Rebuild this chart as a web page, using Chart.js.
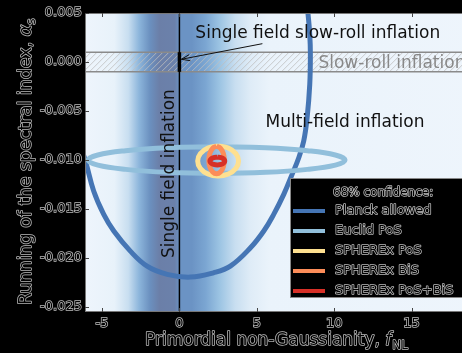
<!DOCTYPE html>
<html>
<head>
<meta charset="utf-8">
<script src="https://cdn.jsdelivr.net/npm/chart.js@4.4.0/dist/chart.umd.min.js"></script>
<style>
html, body { margin: 0; padding: 0; background: #000; overflow: hidden; }
#wrap { width: 489px; height: 353px; }
</style>
</head>
<body>
<div id="wrap"><canvas id="myChart" width="489" height="353"></canvas></div>
<script>
// contours: fNL (x) and running alpha_s (y)
const planckFnl   = [-6.4, -6.07, -5.54, -4.89, -4.24, -3.17, -2.09, -0.79, 0.71, 2.20, 3.29, 4.59, 5.45, 6.09, 6.74, 7.28, 7.71, 8.03, 8.25, 8.42, 8.46, 8.42, 8.31, 8.2];
const planckAlpha = [-0.0086, -0.0101, -0.01316, -0.01555, -0.01724, -0.01929, -0.02082, -0.02166, -0.02194, -0.02150, -0.02082, -0.01895, -0.01724, -0.01554, -0.01350, -0.01146, -0.00977, -0.00806, -0.00568, -0.00228, 0.00079, 0.00283, 0.00487, 0.0062];

const euclidFnl   = [2.4, -0.78, -3.47, -5.27, -5.9, -5.27, -3.47, -0.78, 2.4, 5.58, 8.27, 10.07, 10.7, 10.07, 8.27, 5.58, 2.4];
const euclidAlpha = [-0.00865, -0.00875, -0.00905, -0.00948, -0.0100, -0.01052, -0.01095, -0.01125, -0.01135, -0.01125, -0.01095, -0.01052, -0.0100, -0.00948, -0.00905, -0.00875, -0.00865];

const sphPosFnl   = [2.5, 1.84, 1.357, 1.18, 1.357, 1.84, 2.5, 3.16, 3.643, 3.82, 3.643, 3.16, 2.5];
const sphPosAlpha = [-0.00857, -0.008775, -0.009335, -0.0101, -0.010865, -0.011425, -0.01163, -0.011425, -0.010865, -0.0101, -0.009335, -0.008775, -0.00857];

const sphBisFnl   = [2.4, 2.15, 1.967, 1.9, 1.967, 2.15, 2.4, 2.65, 2.833, 2.9, 2.833, 2.65, 2.4];
const sphBisAlpha = [-0.0086, -0.008788, -0.0093, -0.0100, -0.0107, -0.011212, -0.0114, -0.011212, -0.0107, -0.0100, -0.0093, -0.008788, -0.0086];

const sphAllFnl   = [2.45, 2.21, 2.034, 1.97, 2.034, 2.21, 2.45, 2.69, 2.866, 2.93, 2.866, 2.69, 2.45];
const sphAllAlpha = [-0.0097, -0.009754, -0.0099, -0.0101, -0.0103, -0.010446, -0.0105, -0.010446, -0.0103, -0.0101, -0.0099, -0.009754, -0.0097];

const seriesLabels = ['Planck allowed', 'Euclid PoS', 'SPHEREx PoS', 'SPHEREx BiS', 'SPHEREx PoS+BiS'];

// Planck fNL likelihood shading (relative intensity)
const bandFnl       = [-6.1, -4.2, -3.3, -2.6, -1.9, -1.3, -0.3, 0.0, 0.8, 1.7, 2.6, 3.6, 4.6, 5.8, 20];
const bandIntensity = [0, 0.03, 0.2, 0.55, 0.85, 1.0, 0.98, 0.82, 0.82, 0.65, 0.45, 0.2, 0.08, 0.02, 0];

const xTicks = [-5, 0, 5, 10, 15];
const yTicks = [-0.025, -0.020, -0.015, -0.010, -0.005, 0.000, 0.005];
const slowRollBand = [-0.001, 0.001];

const FONT = "'DejaVu Sans', sans-serif";
const TXT = '#bdbdbd';

function pts(xs, ys) { return xs.map((x, i) => ({ x: x, y: ys[i] })); }

function shade(t) {
    const stops = [[0, [238,245,252]], [0.2, [200,222,240]], [0.45, [156,196,227]],
                   [0.65, [123,166,210]], [0.82, [107,147,196]], [1.0, [107,127,168]]];
    for (let i = 1; i < stops.length; i++) {
        if (t <= stops[i][0]) {
            const a = stops[i-1], b = stops[i];
            const f = (t - a[0]) / (b[0] - a[0]);
            const c = a[1].map((v, k) => Math.round(v + (b[1][k] - v) * f));
            return `rgb(${c[0]},${c[1]},${c[2]})`;
        }
    }
    return 'rgb(107,127,168)';
}

function hollowText(ctx, txt, x, y) {
    ctx.lineWidth = 1.5;
    ctx.strokeStyle = TXT;
    ctx.lineJoin = 'round';
    ctx.strokeText(txt, x, y);
    ctx.fillStyle = '#000';
    ctx.fillText(txt, x, y);
}

const backdrop = {
    id: 'backdrop',
    beforeDatasetsDraw(chart) {
        const { ctx, chartArea: a, scales: { x, y } } = chart;
        ctx.save();
        const g = ctx.createLinearGradient(a.left, 0, a.right, 0);
        bandFnl.forEach((v, i) => {
            const p = (x.getPixelForValue(v) - a.left) / (a.right - a.left);
            g.addColorStop(Math.min(1, Math.max(0, p)), shade(bandIntensity[i]));
        });
        ctx.fillStyle = g;
        ctx.fillRect(a.left, a.top, a.right - a.left, a.bottom - a.top);

        // slow-roll hatched band
        const yTop = y.getPixelForValue(slowRollBand[1]);
        const yBot = y.getPixelForValue(slowRollBand[0]);
        ctx.save();
        ctx.beginPath();
        ctx.rect(a.left, yTop, a.right - a.left, yBot - yTop);
        ctx.clip();
        ctx.strokeStyle = 'rgba(190,190,190,0.8)';
        ctx.lineWidth = 1;
        const h = yBot - yTop;
        for (let px = a.left - h; px < a.right + h; px += 6) {
            ctx.beginPath();
            ctx.moveTo(px, yBot);
            ctx.lineTo(px + h, yTop);
            ctx.stroke();
        }
        ctx.restore();
        ctx.strokeStyle = '#8a8a8a';
        ctx.lineWidth = 1.5;
        [yTop, yBot].forEach(py => {
            ctx.beginPath(); ctx.moveTo(a.left, py); ctx.lineTo(a.right, py); ctx.stroke();
        });

        // single-field line at fNL = 0
        const x0 = x.getPixelForValue(0);
        ctx.strokeStyle = '#000';
        ctx.lineWidth = 1.5;
        ctx.beginPath(); ctx.moveTo(x0, a.top); ctx.lineTo(x0, a.bottom); ctx.stroke();
        ctx.lineWidth = 3.5;
        ctx.beginPath(); ctx.moveTo(x0, yTop); ctx.lineTo(x0, yBot); ctx.stroke();
        ctx.restore();
    },
    afterDatasetsDraw(chart) {
        const { ctx, chartArea: a, scales: { x, y } } = chart;
        ctx.save();
        ctx.font = `17px ${FONT}`;
        ctx.textBaseline = 'alphabetic';
        ctx.textAlign = 'left';

        ctx.fillStyle = '#888';
        ctx.fillText('Slow-roll inflation', x.getPixelForValue(8.98), y.getPixelForValue(-0.00062));

        ctx.fillStyle = '#111';
        ctx.fillText('Single field slow-roll inflation', x.getPixelForValue(1.03), y.getPixelForValue(0.00248));
        ctx.fillText('Multi-field inflation', x.getPixelForValue(5.56), y.getPixelForValue(-0.00663));

        ctx.save();
        ctx.translate(x.getPixelForValue(-0.32), y.getPixelForValue(-0.0200));
        ctx.rotate(-Math.PI / 2);
        ctx.fillText('Single field inflation', 0, 0);
        ctx.restore();

        // arrow to the slow-roll point
        const tx = x.getPixelForValue(5.36), ty = y.getPixelForValue(0.00187);
        const hx = x.getPixelForValue(0.13), hy = y.getPixelForValue(0.00028);
        const ang = Math.atan2(hy - ty, hx - tx);
        ctx.strokeStyle = '#111';
        ctx.lineWidth = 1;
        ctx.beginPath(); ctx.moveTo(tx, ty); ctx.lineTo(hx, hy); ctx.stroke();
        ctx.beginPath();
        ctx.moveTo(hx - 9 * Math.cos(ang - 0.35), hy - 9 * Math.sin(ang - 0.35));
        ctx.lineTo(hx, hy);
        ctx.lineTo(hx - 9 * Math.cos(ang + 0.35), hy - 9 * Math.sin(ang + 0.35));
        ctx.stroke();

        // frame and inward ticks
        ctx.strokeStyle = '#777';
        ctx.lineWidth = 1;
        ctx.strokeRect(a.left + 0.5, a.top + 0.5, a.right - a.left - 1, a.bottom - a.top - 1);
        ctx.strokeStyle = '#444';
        xTicks.forEach(v => {
            const px = Math.round(x.getPixelForValue(v)) + 0.5;
            ctx.beginPath(); ctx.moveTo(px, a.bottom); ctx.lineTo(px, a.bottom - 4); ctx.stroke();
            ctx.beginPath(); ctx.moveTo(px, a.top); ctx.lineTo(px, a.top + 4); ctx.stroke();
        });
        yTicks.forEach(v => {
            const py = Math.round(y.getPixelForValue(v)) + 0.5;
            ctx.beginPath(); ctx.moveTo(a.left, py); ctx.lineTo(a.left + 4, py); ctx.stroke();
        });

        // legend
        const lx = 290, ly = 178;
        ctx.fillStyle = '#000';
        ctx.fillRect(lx, ly, 220, 120);
        ctx.strokeStyle = '#888';
        ctx.strokeRect(lx + 0.5, ly + 0.5, 220, 119);
        ctx.textBaseline = 'middle';
        ctx.font = `12px ${FONT}`;
        hollowText(ctx, '68% confidence:', 333, ly + 15);
        ctx.font = `13px ${FONT}`;
        chart.data.datasets.forEach((ds, i) => {
            const yy = ly + 33 + i * 20;
            ctx.strokeStyle = ds.borderColor;
            ctx.lineWidth = 4;
            ctx.beginPath(); ctx.moveTo(293, yy); ctx.lineTo(325, yy); ctx.stroke();
            hollowText(ctx, ds.label, 335, yy);
        });

        // axis titles
        ctx.textBaseline = 'alphabetic';
        ctx.font = `17px ${FONT}`;
        const xt = 'Primordial non-Gaussianity, ';
        let cx = 145, by = 345;
        hollowText(ctx, xt, cx, by);
        cx += ctx.measureText(xt).width;
        ctx.font = `italic 17px ${FONT}`;
        hollowText(ctx, 'f', cx, by);
        cx += ctx.measureText('f').width + 1;
        ctx.font = `12px ${FONT}`;
        hollowText(ctx, 'NL', cx, by + 4);

        ctx.save();
        ctx.translate(31, 305);
        ctx.rotate(-Math.PI / 2);
        ctx.font = `17.5px ${FONT}`;
        const yt = 'Running of the spectral index, ';
        hollowText(ctx, yt, 0, 0);
        let cy = ctx.measureText(yt).width;
        ctx.font = `italic 17.5px ${FONT}`;
        hollowText(ctx, 'α', cy, 0);
        cy += ctx.measureText('α').width;
        ctx.font = `12px ${FONT}`;
        hollowText(ctx, 's', cy, 4);
        ctx.restore();

        ctx.restore();
    }
};

function contour(label, data, color, order) {
    return {
        label: label, data: data, showLine: true, borderColor: color,
        borderWidth: 5, pointRadius: 0, tension: 0.4, fill: false,
        clip: 0, order: order
    };
}

const ctx = document.getElementById('myChart').getContext('2d');
const chart = new Chart(ctx, {
    type: 'scatter',
    data: {
        datasets: [
            contour(seriesLabels[0], pts(planckFnl, planckAlpha), '#4575b4', 5),
            contour(seriesLabels[1], pts(euclidFnl, euclidAlpha), '#91bfdb', 4),
            contour(seriesLabels[2], pts(sphPosFnl, sphPosAlpha), '#fee090', 3),
            contour(seriesLabels[3], pts(sphBisFnl, sphBisAlpha), '#fc8d59', 2),
            contour(seriesLabels[4], pts(sphAllFnl, sphAllAlpha), '#d73027', 1)
        ]
    },
    options: {
        responsive: false,
        animation: false,
        layout: { padding: { top: 13, left: 0, right: 0, bottom: 0 } },
        plugins: { legend: { display: false }, tooltip: { enabled: false } },
        scales: {
            x: {
                type: 'linear', min: -6.1, max: 20,
                grid: { display: false, drawTicks: false },
                border: { display: false },
                afterBuildTicks: s => { s.ticks = xTicks.map(v => ({ value: v })); },
                afterFit: s => { s.height = 41; },
                ticks: {
                    autoSkip: false, maxRotation: 0, padding: 4,
                    font: { family: 'DejaVu Sans', size: 13 },
                    color: '#000', textStrokeColor: TXT, textStrokeWidth: 1.5,
                    callback: v => String(v)
                }
            },
            y: {
                type: 'linear', min: -0.0255, max: 0.005,
                grid: { display: false, drawTicks: false },
                border: { display: false },
                afterBuildTicks: s => { s.ticks = yTicks.map(v => ({ value: v })); },
                afterFit: s => { s.width = 85; },
                ticks: {
                    autoSkip: false, padding: 3,
                    font: { family: 'DejaVu Sans', size: 13 },
                    color: '#000', textStrokeColor: TXT, textStrokeWidth: 1.5,
                    callback: v => v.toFixed(3)
                }
            }
        }
    },
    plugins: [backdrop]
});
</script>
</body>
</html>
